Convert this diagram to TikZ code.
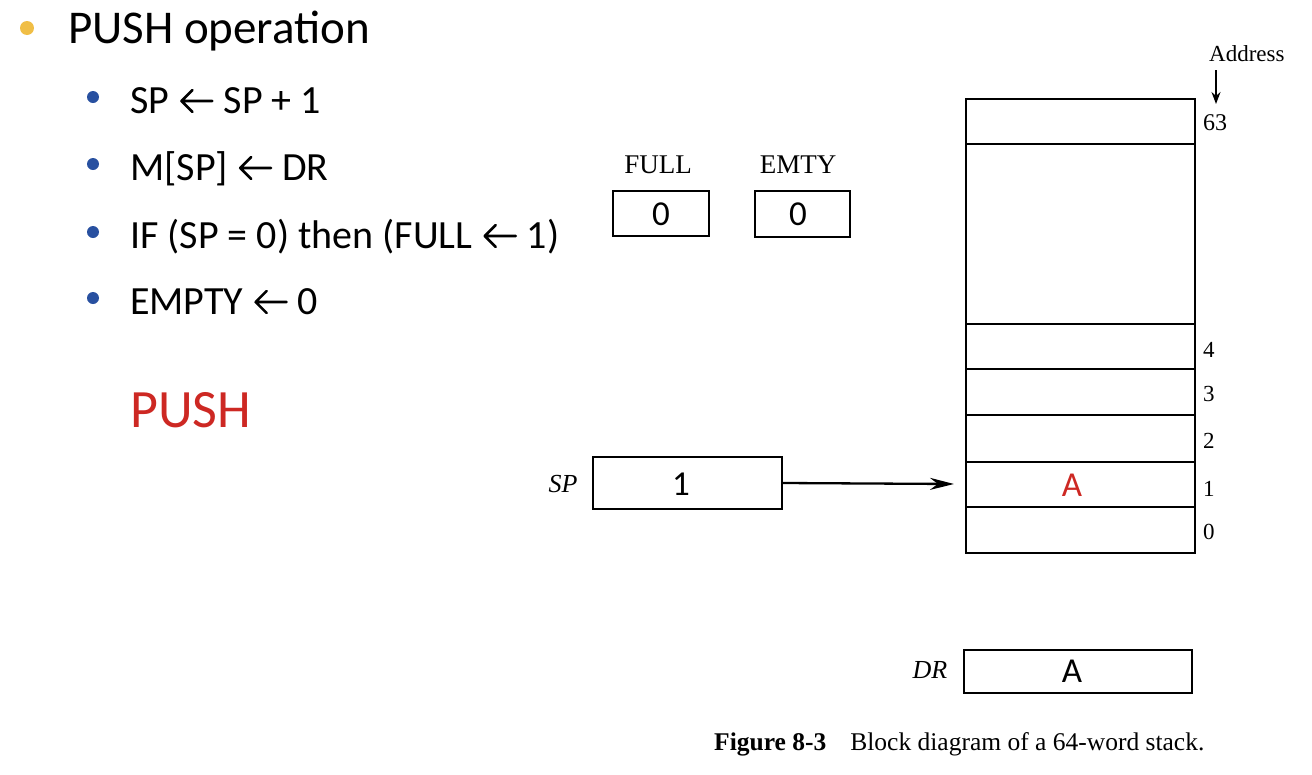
\documentclass[tikz,border=0pt]{standalone}
\usepackage{fontspec}
\setmainfont{Liberation Serif}
\newfontfamily\slidef{Carlito}
\usetikzlibrary{arrows.meta}
\definecolor{bulletyellow}{RGB}{240,190,70}
\definecolor{bulletblue}{RGB}{40,80,160}
\definecolor{pushred}{RGB}{205,40,35}
\tikzset{
  reg/.style={draw, line width=2.3pt},
  slidetxt/.style={anchor=base west, inner sep=0pt, font=\slidef\fontsize{40}{44}\selectfont},
  slidearrow/.style={line width=2.6pt, line cap=round, line join=round},
  serif/.style={inner sep=0pt, font=\fontsize{27}{30}\selectfont},
  val/.style={inner sep=0pt, font=\slidef\fontsize{35}{38}\selectfont},
  addr/.style={anchor=base west, inner sep=0pt, font=\fontsize{23}{25}\selectfont},
}
\begin{document}
\begin{tikzpicture}[x=1pt,y=-1pt]
\useasboundingbox (0,0) rectangle (1312,774);
% slide text
\fill[bulletyellow] (27,28) circle (7);
\node[slidetxt, font=\slidef\fontsize{47}{50}\selectfont] (h) at (68,43) {PUSH operation};
\foreach \y in {97,164,232,298} \fill[bulletblue] (93,\y) circle (6);
% line 1
\node[slidetxt] (l1a) at (130,113) {SP};
\coordinate (l1s) at ([xshift=12pt,yshift=12pt]l1a.base east);
\draw[slidearrow] (l1s) ++(31,0) -- (l1s) -- ++(11,-11) (l1s) -- ++(11,11);
\node[slidetxt] (l1b) at ([xshift=54pt]l1a.base east) {SP + 1};
% line 2
\node[slidetxt] (l2a) at (130,180) {M[SP]};
\coordinate (l2s) at ([xshift=12pt,yshift=12pt]l2a.base east);
\draw[slidearrow] (l2s) ++(31,0) -- (l2s) -- ++(11,-11) (l2s) -- ++(11,11);
\node[slidetxt] (l2b) at ([xshift=54pt]l2a.base east) {DR};
% line 3
\node[slidetxt] (l3a) at (130,248) {IF (SP = 0) then (FULL};
\coordinate (l3s) at ([xshift=12pt,yshift=12pt]l3a.base east);
\draw[slidearrow] (l3s) ++(31,0) -- (l3s) -- ++(11,-11) (l3s) -- ++(11,11);
\node[slidetxt] (l3b) at ([xshift=54pt]l3a.base east) {1)};
% line 4
\node[slidetxt] (l4a) at (130,314) {EMPTY};
\coordinate (l4s) at ([xshift=12pt,yshift=12pt]l4a.base east);
\draw[slidearrow] (l4s) ++(31,0) -- (l4s) -- ++(11,-11) (l4s) -- ++(11,11);
\node[slidetxt] (l4b) at ([xshift=54pt]l4a.base east) {0};
\node[slidetxt, text=pushred, font=\slidef\fontsize{54}{58}\selectfont] (push) at (130,427) {PUSH};
% FULL / EMTY
\node[serif, anchor=base] (fulll) at (658,173) {FULL};
\node[serif, anchor=base] (emtyl) at (798,173) {EMTY};
\draw[reg] (613,191) rectangle (709,236);
\draw[reg] (755,191) rectangle (850,237);
\node[val] (fullv) at (661,214) {0};
\node[val] (emtyv) at (798,214) {0};
% stack
\draw[reg] (966,99) rectangle (1195,553);
\foreach \y in {144,324,369,415,462,507} \draw[reg] (966,\y) -- (1195,\y);
\node[addr] (address) at (1209,61) {Address};
\coordinate (at) at (1216,70);
\coordinate (ab) at (1216,104);
\draw[line width=1.4pt, -{Stealth[length=12pt,width=9pt]}] (at) -- (ab);
\node[addr, font=\fontsize{24}{26}\selectfont] (a63) at (1203,130) {63};
\node[addr] (a4) at (1203,357) {4};
\node[addr] (a3) at (1203,401) {3};
\node[addr] (a2) at (1203,448) {2};
\node[addr] (a1) at (1203,496) {1};
\node[addr] (a0) at (1203,539) {0};
\node[val, text=pushred] (cellA) at (1072,485) {A};
\coordinate (cell1) at (954,484);
% SP
\node[serif, font=\itshape\fontsize{26}{28}\selectfont] (spl) at (563,484) {SP};
\node[reg, minimum width=189pt, minimum height=52pt, inner sep=0pt] (sp) at (687.5,483) {};
\node[val] (spv) at (681,484) {1};
\draw[line width=2.3pt, -{Stealth[length=24pt,width=12pt]}] (sp.east) -- (cell1);
% DR
\node[serif, font=\itshape\fontsize{26}{28}\selectfont] (drl) at (930,670) {DR};
\node[reg, minimum width=228pt, minimum height=43pt, inner sep=0pt] (dr) at (1078,671.5) {};
\node[val] (drv) at (1072,671) {A};
% caption
\node[anchor=base west, inner sep=0pt, font=\fontsize{25.5}{29}\selectfont] (cap) at (714,750) {\textbf{Figure 8-3}\hspace{24pt}Block diagram of a 64-word stack.};
\end{tikzpicture}
\end{document}
